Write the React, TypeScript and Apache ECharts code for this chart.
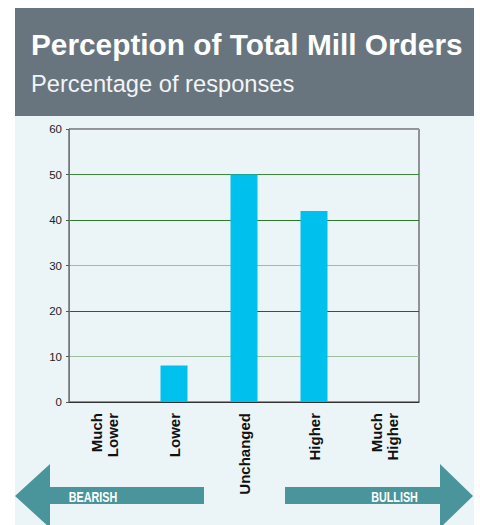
import React, { useEffect, useRef } from "react";
import * as echarts from "echarts";

const categories = ["Much\nLower", "Lower", "Unchanged", "Higher", "Much\nHigher"];
const responses = [0, 8, 50, 42, 0];
const yTicks = { min: 0, max: 60, interval: 10 };
const titleText = "Perception of Total Mill Orders";
const subtitleText = "Percentage of responses";
const arrowLabels = ["BEARISH", "BULLISH"];

export default function App() {
  const ref = useRef<HTMLDivElement>(null);
  useEffect(() => {
    if (!ref.current) return;
    const chart = echarts.init(ref.current, undefined, { renderer: "svg" });
    const teal = "#4a959b";
    const arrowFont = "bold 15px 'Liberation Sans', Arial, sans-serif";
    chart.setOption({
      animation: false,
      backgroundColor: "#ffffff",
      grid: {
        left: 69,
        right: 61,
        top: 129,
        bottom: 123,
        show: true,
        backgroundColor: "transparent",
        borderColor: "#333333",
        borderWidth: 1,
      },
      graphic: [
        { type: "rect", z: -10, shape: { x: 15, y: 116, width: 459, height: 409 }, style: { fill: "#ebf4f6" } },
        { type: "rect", z: -10, shape: { x: 15, y: 8, width: 459, height: 108 }, style: { fill: "#68757e" } },
        {
          type: "text", x: 31, y: 44,
          style: {
            text: titleText, fill: "#ffffff", verticalAlign: "middle",
            font: "bold 29.8px 'Liberation Sans', Arial, sans-serif",
          },
        },
        {
          type: "text", x: 31, y: 84,
          style: {
            text: subtitleText, fill: "#f2f4f5", verticalAlign: "middle",
            font: "23.7px 'Liberation Sans', Arial, sans-serif",
          },
        },
        {
          type: "polygon",
          shape: { points: [[15, 496], [50, 464], [50, 487], [204, 487], [204, 504], [50, 504], [50, 528]] },
          style: { fill: teal },
        },
        {
          type: "polygon",
          shape: { points: [[473, 496], [440, 464], [440, 487], [285, 487], [285, 504], [440, 504], [440, 528]] },
          style: { fill: teal },
        },
        {
          type: "text", x: 93, y: 496.5, scaleX: 0.72,
          style: { text: arrowLabels[0], fill: "#ffffff", align: "center", verticalAlign: "middle", font: arrowFont },
        },
        {
          type: "text", x: 394.5, y: 496.5, scaleX: 0.72,
          style: { text: arrowLabels[1], fill: "#ffffff", align: "center", verticalAlign: "middle", font: arrowFont },
        },
      ],
      xAxis: {
        type: "category",
        data: categories,
        axisLine: { lineStyle: { color: "#333333", width: 1 } },
        axisTick: { show: false },
        axisLabel: {
          rotate: 90,
          margin: 11,
          fontSize: 15,
          fontWeight: "bold",
          lineHeight: 16,
          color: "#111111",
          fontFamily: "'Liberation Sans', Arial, sans-serif",
        },
      },
      yAxis: {
        type: "value",
        min: yTicks.min,
        max: yTicks.max,
        interval: yTicks.interval,
        axisLine: { show: true, lineStyle: { color: "#777777" } },
        axisTick: { show: true, length: 3, lineStyle: { color: "#555555" } },
        axisLabel: {
          margin: 7,
          fontSize: 11.5,
          color: "#222222",
          fontFamily: "'Liberation Sans', Arial, sans-serif",
        },
        splitLine: {
          show: true,
          lineStyle: {
            color: ["#333333", "#9dbf9d", "#1f661f", "#9dbf9d", "#2f772f", "#3b873b", "#9a9a9a"],
            width: 1,
          },
        },
      },
      series: [
        {
          type: "bar",
          data: responses,
          barWidth: 27,
          itemStyle: { color: "#00c1ee" },
        },
      ],
    });
    return () => chart.dispose();
  }, []);
  return (
    <div style={{ position: "absolute", left: 0, top: 0, width: 480, height: 525 }}>
      <div ref={ref} style={{ width: 480, height: 525 }} />
    </div>
  );
}
